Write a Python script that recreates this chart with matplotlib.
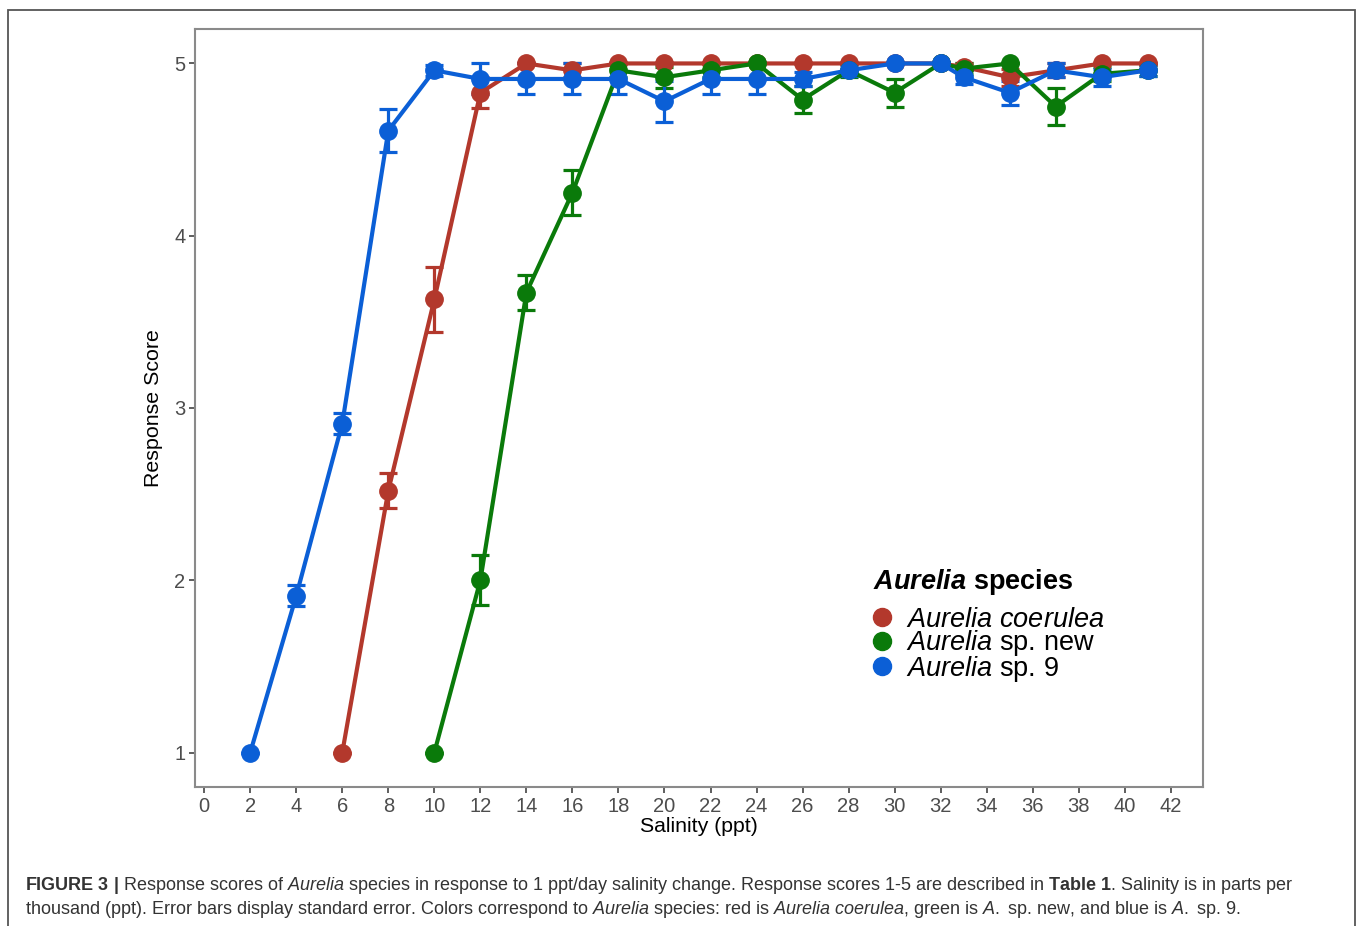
import matplotlib
matplotlib.use("Agg")
import matplotlib.pyplot as plt
from matplotlib.lines import Line2D
from matplotlib.patches import Rectangle

plt.rcParams['font.family'] = ['Liberation Sans', 'DejaVu Sans']
plt.rcParams['mathtext.fontset'] = 'custom'
plt.rcParams['mathtext.rm'] = 'Liberation Sans'
plt.rcParams['mathtext.it'] = 'Liberation Sans:italic'
plt.rcParams['mathtext.bf'] = 'Liberation Sans:bold'
plt.rcParams['mathtext.bfit'] = 'Liberation Sans:italic:bold'

# salinity (ppt) for each species
x_coerulea = [6, 8, 10, 12, 14, 16, 18, 20, 22, 24, 26, 28, 30, 32, 33, 35, 37, 39, 41]
x_new = [10, 12, 14, 16, 18, 20, 22, 24, 26, 28, 30, 32, 33, 35, 37, 39, 41]
x_sp9 = [2, 4, 6, 8, 10, 12, 14, 16, 18, 20, 22, 24, 26, 28, 30, 32, 33, 35, 37, 39, 41]

# mean response score and standard error
y_coerulea = [1, 2.52, 3.63, 4.83, 5, 4.96, 5, 5, 5, 5, 5, 5, 5, 5, 4.98, 4.92, 4.96, 5, 5]
se_coerulea = [0, 0.10, 0.19, 0.09, 0, 0.04, 0, 0, 0, 0, 0, 0, 0, 0, 0.02, 0.05, 0.04, 0, 0]
y_new = [1, 2.0, 3.67, 4.25, 4.96, 4.92, 4.96, 5, 4.79, 4.96, 4.83, 5, 4.97, 5, 4.75, 4.94, 4.96]
se_new = [0, 0.145, 0.10, 0.13, 0.04, 0.06, 0.04, 0, 0.08, 0.04, 0.08, 0, 0.03, 0, 0.11, 0.04, 0.03]
y_sp9 = [1, 1.91, 2.91, 4.61, 4.96, 4.91, 4.91, 4.91, 4.91, 4.78, 4.91, 4.91, 4.91, 4.96,
         5, 5, 4.92, 4.83, 4.96, 4.92, 4.96]
se_sp9 = [0, 0.06, 0.06, 0.125, 0.03, 0.09, 0.09, 0.09, 0.09, 0.12, 0.09, 0.09, 0.04, 0.03,
          0, 0, 0.04, 0.07, 0.04, 0.05, 0.03]

names = [r'$\mathit{Aurelia\ coerulea}$', r'$\mathit{Aurelia}$ sp. new', r'$\mathit{Aurelia}$ sp. 9']
red = '#B3382C'
green = '#0A7A0A'
blue = '#0B5FD6'

fig = plt.figure(figsize=(13.57, 9.26), dpi=100)
ax = fig.add_axes([195 / 1357, 1 - 787 / 926, (1203 - 195) / 1357, (787 - 29) / 926])

series = [(x_coerulea, y_coerulea, se_coerulea, red),
          (x_new, y_new, se_new, green),
          (x_sp9, y_sp9, se_sp9, blue)]
for xs, ys, es, col in series:
    ax.errorbar(xs, ys, yerr=es, color=col, lw=3.0, marker='o', ms=12.5,
                elinewidth=2.3, capsize=6.5, capthick=2.3)

ax.set_xlim(-0.4, 43.4)
ax.set_ylim(0.8, 5.2)
ax.set_xticks(range(0, 43, 2))
ax.set_yticks([1, 2, 3, 4, 5])
ax.tick_params(labelsize=14.5, colors='#333333', labelcolor='#4D4D4D', length=4, width=1.1, pad=3)
for s in ax.spines.values():
    s.set_color('#8A8A8A')
    s.set_linewidth(1.5)
ax.set_xlabel('Salinity (ppt)', fontsize=15.3, labelpad=1)
ax.set_ylabel('Response Score', fontsize=15.4, labelpad=8)

# legend: title drawn as a separate text so the gap above the keys matches
handles = [Line2D([], [], color=c, marker='o', ms=13, lw=0) for c in (red, green, blue)]
leg = ax.legend(handles, names, loc='upper left', bbox_to_anchor=(0.668, 0.238),
                frameon=False, fontsize=19.5, labelspacing=-0.16, handletextpad=0.4,
                handlelength=1.0, borderaxespad=0, borderpad=0)
ax.text(0.673, 0.271, r'$\mathbfit{Aurelia}$ species', transform=ax.transAxes, fontsize=19.5,
        fontweight='bold', va='center', ha='left')

# outer frame and caption
fig.patches.append(Rectangle((8 / 1357, -2 / 926), 1347 / 1357, 918 / 926, transform=fig.transFigure,
                             fill=False, ec='#555555', lw=1.3))
fig.text(25 / 1357, 1 - 885 / 926, r'$\mathbf{FIGURE\ 3\ |}$ Response scores of $\mathit{Aurelia}$ species in response '
         r'to 1 ppt/day salinity change. Response scores 1-5 are described in $\mathbf{Table\ 1}$. '
         'Salinity is in parts per', fontsize=13.0, color='#333333', va='center')
fig.text(25 / 1357, 1 - 910 / 926, r'thousand (ppt). Error bars display standard error. Colors correspond to '
         r'$\mathit{Aurelia}$ species: red is $\mathit{Aurelia\ coerulea}$, green is $\mathit{A.}$ sp. new, '
         r'and blue is $\mathit{A.}$ sp. 9.', fontsize=13.0, color='#333333', va='center')

fig.savefig('out.png', dpi=100)
